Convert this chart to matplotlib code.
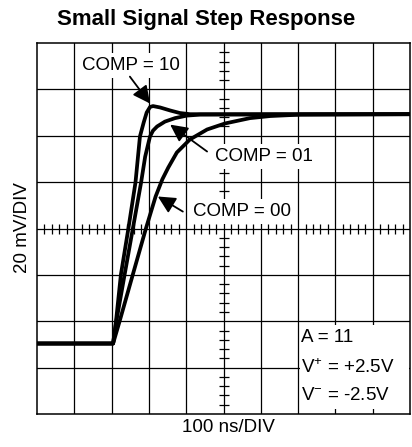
import matplotlib
matplotlib.use("Agg")
import matplotlib.pyplot as plt
from matplotlib.patches import Rectangle

plt.rcParams['font.family'] = ['Liberation Sans', 'DejaVu Sans']
plt.rcParams['mathtext.default'] = 'regular'

# time in ns (100 ns/div), output in mV (20 mV/div)
t_comp10 = [0, 204, 212, 225, 245, 264, 276, 286, 294, 303, 311, 330, 357, 383, 410, 437, 1000]
v_comp10 = [-49.6, -49.6, -39.7, -19.8, 0, 19.8, 39.7, 45.7, 50.0, 52.4, 52.8, 52.2, 50.9, 49.8, 49.3, 49.3, 49.3]

t_comp01 = [0, 204, 213, 235, 257, 279, 290, 303, 311, 322, 343, 370, 402, 437, 1000]
v_comp01 = [-49.6, -49.6, -39.7, -19.8, 0, 19.8, 31.0, 39.7, 42.2, 44.0, 46.1, 47.6, 48.7, 49.1, 49.3]

t_comp00 = [0, 204, 222, 257, 292, 318, 336, 352, 375, 410, 456, 504, 571, 625, 705, 1000]
v_comp00 = [-49.6, -49.6, -39.7, -19.8, 0, 13.8, 21.2, 26.3, 32.8, 38.4, 42.7, 45.3, 47.6, 48.5, 49.1, 49.3]

fig = plt.figure(figsize=(4.12, 4.47), dpi=100)
ax = fig.add_axes([37 / 412, 33 / 447, 373 / 412, 371 / 447])
ax.set_xlim(0, 1000)
ax.set_ylim(-80, 80)
ax.set_xticks([])
ax.set_yticks([])
for s in ax.spines.values():
    s.set_linewidth(1.1)

# scope graticule
for t in range(100, 1000, 100):
    ax.axvline(t, color='k', lw=0.9, zorder=1)
for v in range(-60, 80, 20):
    ax.axhline(v, color='k', lw=0.9, zorder=1)
minor_t = [t for t in range(20, 1000, 20) if t % 100]
minor_v = [v for v in range(-76, 80, 4) if v % 20]
ax.plot(minor_t, [0] * len(minor_t), ls='none', marker='|', ms=6.5, mew=0.9, color='k', zorder=1)
ax.plot([500] * len(minor_v), minor_v, ls='none', marker='_', ms=6.5, mew=0.9, color='k', zorder=1)

for t, v in [(t_comp10, v_comp10), (t_comp01, v_comp01), (t_comp00, v_comp00)]:
    ax.plot(t, v, color='k', lw=2.7, solid_joinstyle='round', zorder=4)

box = dict(fc='white', ec='none', pad=3)
ax.text(121, 70.3, 'COMP = 10', fontsize=13.5, va='center', ha='left', bbox=box, zorder=5)
ax.text(477, 31.0, 'COMP = 01', fontsize=13.5, va='center', ha='left', bbox=box, zorder=5)
ax.text(418, 7.3, 'COMP = 00', fontsize=13.5, va='center', ha='left', bbox=box, zorder=5)

arrow = dict(arrowstyle='-|>,head_length=0.7,head_width=0.35', color='k', lw=1.3,
             shrinkA=0, shrinkB=0, mutation_scale=15)
ax.annotate('', xy=(303, 53.9), xytext=(249, 65.5), arrowprops=arrow, zorder=6)
ax.annotate('', xy=(357, 44.8), xytext=(456, 33.2), arrowprops=arrow, zorder=6)
ax.annotate('', xy=(324, 13.8), xytext=(391, 7.3), arrowprops=arrow, zorder=6)

# conditions box
ax.add_patch(Rectangle((706, -78), 290, 36.2, fc='white', ec='none', zorder=2))
ax.text(708, -47, 'A = 11', fontsize=13.5, va='center', ha='left', zorder=5)
ax.text(708, -60, 'V$^{+}$ = +2.5V', fontsize=13.5, va='center', ha='left', zorder=5)
ax.text(708, -72.2, 'V$^{-}$ = -2.5V', fontsize=13.5, va='center', ha='left', zorder=5)

fig.text(0.5, 1 - 19 / 447, 'Small Signal Step Response', ha='center', va='center',
         fontsize=16, fontweight='bold')
fig.text(228 / 412, 1 - 428 / 447, '100 ns/DIV', ha='center', va='center', fontsize=13.5)
fig.text(23 / 412, 1 - 228 / 447, '20 mV/DIV', ha='center', va='center', fontsize=13.5, rotation=90)

plt.savefig("out.png", dpi=100)
